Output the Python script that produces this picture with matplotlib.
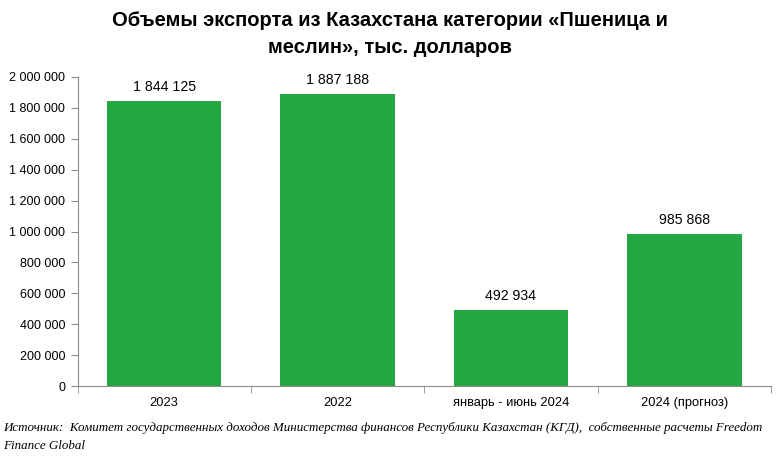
import matplotlib
matplotlib.use("Agg")
import matplotlib.pyplot as plt
from matplotlib.ticker import FuncFormatter, FixedLocator

categories = ["2023", "2022", "январь - июнь 2024", "2024 (прогноз)"]
values = [1844125, 1887188, 492934, 985868]
yticks = [0, 200000, 400000, 600000, 800000, 1000000, 1200000, 1400000, 1600000, 1800000, 2000000]

sans = "Liberation Sans"

def fmt(v):
    return f"{int(v):,}".replace(",", " ")

fig = plt.figure(figsize=(7.84, 4.63), dpi=100)
ax = fig.add_axes([0.0989, 0.1663, 0.8846, 0.6674])

x = list(range(len(categories)))
ax.bar(x, values, width=0.66, color="#25A843", zorder=2)
for xi, v in zip(x, values):
    ax.annotate(fmt(v), (xi, v), xytext=(0, 5), textcoords="offset points",
                ha="center", va="bottom", fontsize=10.2, family=sans)

ax.set_xlim(-0.5, len(categories) - 0.5)
ax.set_ylim(0, 2000000)
ax.set_yticks(yticks)
ax.yaxis.set_major_formatter(FuncFormatter(lambda v, p: fmt(v)))
ax.set_xticks(x)
ax.set_xticklabels(categories)
ax.xaxis.set_minor_locator(FixedLocator([i - 0.5 for i in range(len(categories) + 1)]))
ax.tick_params(axis="x", which="major", length=0, pad=8)
ax.tick_params(axis="x", which="minor", length=5, color="#8c8c8c")
ax.tick_params(axis="y", length=5, color="#8c8c8c", pad=4)
for lab in ax.get_xticklabels():
    lab.set_family(sans)
    lab.set_fontsize(9.3)
for lab in ax.get_yticklabels():
    lab.set_family(sans)
    lab.set_fontsize(9)

for s in ["top", "right"]:
    ax.spines[s].set_visible(False)
for s in ["left", "bottom"]:
    ax.spines[s].set_color("#8c8c8c")

fig.text(0.497, 0.955, "Объемы экспорта из Казахстана категории «Пшеница и",
         ha="center", va="center", fontsize=14.5, fontweight="bold", family=sans)
fig.text(0.497, 0.898, "меслин», тыс. долларов",
         ha="center", va="center", fontsize=14.5, fontweight="bold", family=sans)

fig.text(0.004, 0.075, "Источник:  Комитет государственных доходов Министерства финансов Республики Казахстан (КГД),  собственные расчеты Freedom",
         ha="left", va="center", fontsize=9.4, style="italic", family="Liberation Serif")
fig.text(0.004, 0.036, "Finance Global",
         ha="left", va="center", fontsize=9.4, style="italic", family="Liberation Serif")

fig.savefig("out.png", dpi=100)
